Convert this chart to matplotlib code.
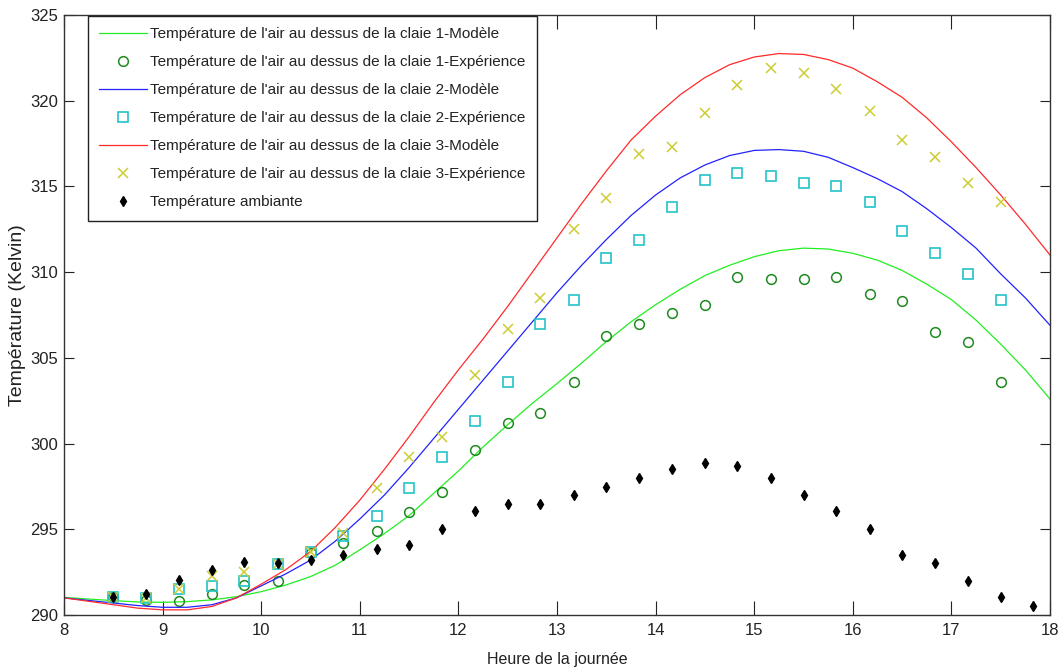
import matplotlib
matplotlib.use("Agg")
import matplotlib.pyplot as plt

plt.rcParams['font.family'] = ['Liberation Sans', 'DejaVu Sans']

# ---- data ----
t_model = [8.0, 8.25, 8.5, 8.75, 9.0, 9.25, 9.5, 9.75, 10.0, 10.25, 10.5, 10.75,
           11.0, 11.25, 11.5, 11.75, 12.0, 12.25, 12.5, 12.75, 13.0, 13.25, 13.5,
           13.75, 14.0, 14.25, 14.5, 14.75, 15.0, 15.25, 15.5, 15.75, 16.0, 16.25,
           16.5, 16.75, 17.0, 17.25, 17.5, 17.75, 18.0]
model1 = [291.03, 290.93, 290.84, 290.76, 290.74, 290.78, 290.88, 291.07, 291.36, 291.75,
          292.24, 292.9, 293.8, 294.75, 295.8, 297.1, 298.4, 299.8, 301.1, 302.35, 303.5,
          304.7, 305.95, 307.1, 308.1, 309.0, 309.8, 310.4, 310.9, 311.25, 311.4, 311.35,
          311.1, 310.7, 310.1, 309.3, 308.4, 307.2, 305.8, 304.3, 302.6]
model2 = [291.0, 290.85, 290.7, 290.55, 290.45, 290.45, 290.6, 291.0, 291.7, 292.4,
          293.2, 294.3, 295.6, 297.0, 298.6, 300.3, 302.0, 303.7, 305.4, 307.1, 308.8,
          310.4, 311.9, 313.3, 314.5, 315.5, 316.25, 316.8, 317.1, 317.15, 317.05, 316.7,
          316.1, 315.45, 314.7, 313.7, 312.6, 311.4, 309.9, 308.5, 306.9]
model3 = [291.0, 290.8, 290.6, 290.4, 290.3, 290.3, 290.5, 291.0, 291.8, 292.65,
          293.7, 295.1, 296.7, 298.5, 300.4, 302.4, 304.3, 306.1, 308.0, 310.0, 312.0,
          314.0, 315.9, 317.7, 319.1, 320.35, 321.35, 322.1, 322.55, 322.75, 322.7, 322.4,
          321.9, 321.1, 320.2, 319.0, 317.6, 316.1, 314.5, 312.8, 311.0]

t_exp = [8.5, 8.83, 9.17, 9.5, 9.83, 10.17, 10.5, 10.83, 11.17, 11.5, 11.83, 12.17,
         12.5, 12.83, 13.17, 13.5, 13.83, 14.17, 14.5, 14.83, 15.17, 15.5, 15.83,
         16.17, 16.5, 16.83, 17.17, 17.5]
exp1 = [291.05, 290.9, 290.8, 291.2, 291.75, 292.0, 293.6, 294.2, 294.9, 296.0, 297.2,
        299.6, 301.2, 301.8, 303.6, 306.3, 307.0, 307.6, 308.1, 309.7, 309.6, 309.6,
        309.7, 308.7, 308.3, 306.5, 305.9, 303.6]
exp2 = [291.05, 291.0, 291.5, 291.7, 292.0, 293.0, 293.7, 294.6, 295.8, 297.4, 299.2,
        301.3, 303.6, 307.0, 308.4, 310.8, 311.9, 313.8, 315.4, 315.8, 315.6, 315.2,
        315.0, 314.1, 312.4, 311.1, 309.9, 308.4]
exp3 = [291.05, 291.0, 291.5, 292.3, 292.5, 293.0, 293.7, 294.8, 297.4, 299.2, 300.4,
        304.0, 306.7, 308.5, 312.5, 314.3, 316.9, 317.3, 319.3, 320.9, 321.9, 321.6,
        320.7, 319.4, 317.7, 316.7, 315.2, 314.1]

t_amb = [8.5, 8.83, 9.17, 9.5, 9.83, 10.17, 10.5, 10.83, 11.17, 11.5, 11.83, 12.17,
         12.5, 12.83, 13.17, 13.5, 13.83, 14.17, 14.5, 14.83, 15.17, 15.5, 15.83,
         16.17, 16.5, 16.83, 17.17, 17.5, 17.83]
amb = [291.07, 291.2, 292.05, 292.6, 293.07, 293.05, 293.2, 293.5, 293.85, 294.1, 295.0,
       296.07, 296.5, 296.5, 297.0, 297.45, 298.0, 298.5, 298.85, 298.7, 298.0, 297.0,
       296.05, 295.0, 293.5, 293.05, 292.0, 291.05, 290.5]

labels = ["Température de l'air au dessus de la claie 1-Modèle",
          "Température de l'air au dessus de la claie 1-Expérience",
          "Température de l'air au dessus de la claie 2-Modèle",
          "Température de l'air au dessus de la claie 2-Expérience",
          "Température de l'air au dessus de la claie 3-Modèle",
          "Température de l'air au dessus de la claie 3-Expérience",
          "Température ambiante"]
xlabel = "Heure de la journée"
ylabel = "Température (Kelvin)"
xticks = [8, 9, 10, 11, 12, 13, 14, 15, 16, 17, 18]
yticks = [290, 295, 300, 305, 310, 315, 320, 325]

# ---- figure ----
fig = plt.figure(figsize=(10.62, 6.69), dpi=100)
ax = fig.add_axes([64 / 1062, 1 - 615 / 669, 986 / 1062, 600 / 669])

ax.plot(t_model, model1, color='#22ee22', lw=0.9, label=labels[0])
ax.plot(t_exp, exp1, ls='none', marker='o', ms=7, mfc='none', mec='#1f8a1f', mew=1.1, label=labels[1])
ax.plot(t_model, model2, color='#2222ff', lw=0.9, label=labels[2])
ax.plot(t_exp, exp2, ls='none', marker='s', ms=7, mfc='none', mec='#22c4c8', mew=1.2, label=labels[3])
ax.plot(t_model, model3, color='#ff2a2a', lw=0.9, label=labels[4])
ax.plot(t_exp, exp3, ls='none', marker='x', ms=7, mec='#cccc33', mew=1.1, label=labels[5])
ax.plot(t_amb, amb, ls='none', marker='d', ms=5.5, mfc='black', mec='black', label=labels[6])

ax.set_xlim(8, 18)
ax.set_ylim(290, 325)
ax.set_xticks(xticks)
ax.set_yticks(yticks)
ax.tick_params(direction='in', top=True, right=True, labelsize=12, colors='#222222')
ax.tick_params(axis='x', length=10, pad=6)
ax.tick_params(axis='y', length=7, pad=4)
for s in ax.spines.values():
    s.set_color('#333333')
    s.set_linewidth(1.0)

ax.set_xlabel(xlabel, fontsize=11.5, color='#222222', labelpad=10)
ax.set_ylabel(ylabel, fontsize=14, color='#222222', labelpad=3)

leg = ax.legend(loc='upper left', bbox_to_anchor=(0.0243, 0.999), borderaxespad=0,
                prop={'size': 11}, frameon=True, fancybox=False, framealpha=1,
                edgecolor='#222222', handlelength=3.1, handletextpad=0.2,
                labelspacing=0.92, borderpad=0.75)
leg.get_frame().set_linewidth(1.0)
for txt in leg.get_texts():
    txt.set_color('#222222')

fig.savefig('out.png', dpi=100)
